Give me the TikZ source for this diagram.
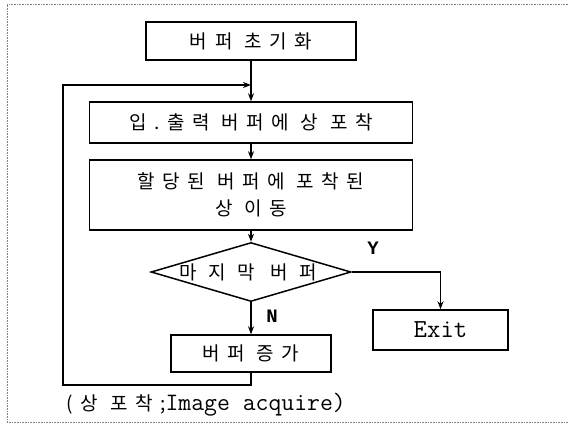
\documentclass[tikz,border=0pt]{standalone}
\usepackage{fontspec}
\newfontfamily\kor[LetterSpace=40]{Noto Sans CJK KR}
\newfontfamily\korwide[LetterSpace=60]{Noto Sans CJK KR}
\newfontfamily\yn{Liberation Mono}
\usetikzlibrary{arrows.meta}
\usetikzlibrary{positioning}
\usetikzlibrary{shapes.geometric}

\begin{document}
\begin{tikzpicture}[x=1pt, y=-1pt, line width=1.5pt,
    box/.style={draw, rectangle, inner sep=0pt, font=\kor\fontsize{19}{27}\selectfont},
    test/.style={draw, diamond, inner sep=0pt, minimum width=200pt, minimum height=59pt},
    word/.style={inner sep=0pt, font=\kor\fontsize{19}{27}\selectfont},
    branch/.style={inner sep=0pt, font=\yn\bfseries\fontsize{19}{21}\selectfont},
    >={Stealth[length=8pt, width=6pt]}]
    \useasboundingbox (0,0) rectangle (568,428);
    \draw[densely dotted, gray, line width=0.6pt] (568,4) -- (7,4) -- (7,422) -- (568,422);
    \node[box, minimum width=210pt, minimum height=38pt] (1) at (251,41) {버퍼 초기화};
    \node[box, minimum width=323pt, minimum height=41pt] (2) at (251,122.5) {입.출력 버퍼에 상 포착};
    \node[box, minimum width=323pt, minimum height=70pt, align=center] (3) at (251,195) {할당된 버퍼에 포착된\\상 이동};
    \node[test] (4) at (251,272) {};
    \node[word, font=\korwide\fontsize{19}{27}\selectfont] (4t) at (248,272) {마지막 버퍼};
    \node[box, minimum width=135pt, minimum height=40pt, font=\ttfamily\fontsize{26}{28}\selectfont] (6) at (440.5,330) {Exit};
    \node[box, minimum width=160pt, minimum height=37pt] (5) at (251,353.5) {버퍼 증가};
    \node[branch] (y) at (373,248) {Y};
    \node[branch] (n) at (272,316) {N};
    \node[word, anchor=west] (cap) at (66,405) {(상 포착;{\ttfamily\fontsize{25}{27}\selectfont Image acquire)}};
    \coordinate (c1) at (63,385);
    \coordinate (c2) at (63,85);
    \draw[->] (1) -- (2);
    \draw[->] (2) -- (3);
    \draw[->] (3) -- (4);
    \draw[->] (4.south) -- (5);
    \draw[->] (4.east) -| (6.north);
    \draw[->] (5) -- (5 |- c1) -- (c1) -- (c2) -- (c2 -| 2);
\end{tikzpicture}
\end{document}
